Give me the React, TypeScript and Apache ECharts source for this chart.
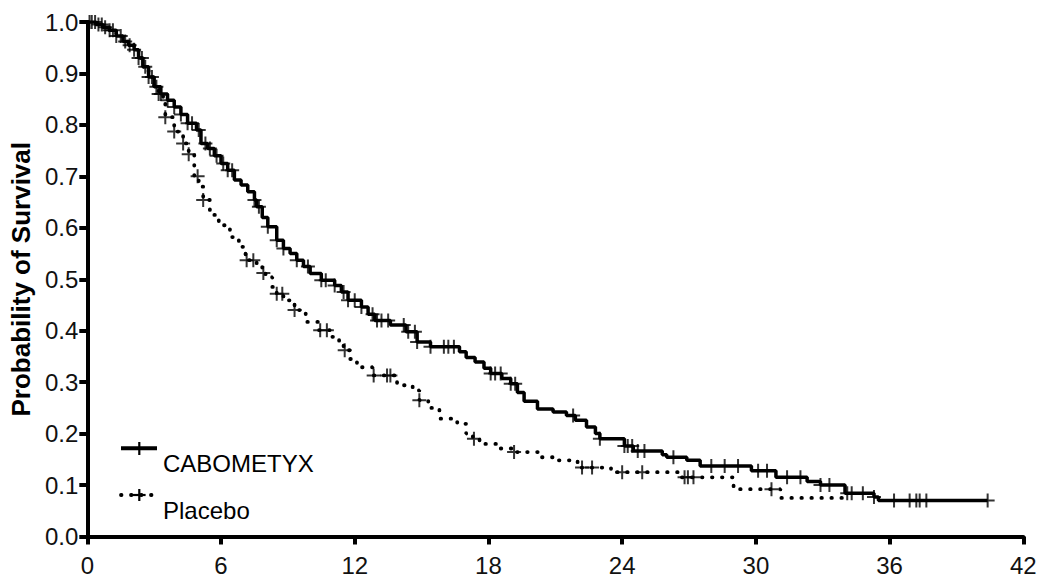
import React, { useEffect, useRef } from "react";
import * as echarts from "echarts";

// CABOMETYX Kaplan-Meier step points (months, survival probability)
const cabTimes = [0, 0.4, 0.7, 1.0, 1.3, 1.6, 1.85, 2.1, 2.3, 2.5, 2.75, 3.0, 3.3, 3.6, 3.9, 4.2, 4.5, 4.9, 5.1, 5.4, 5.7, 6.0, 6.3, 6.6, 6.9, 7.2, 7.5, 7.6, 7.85, 8.1, 8.5, 8.8, 9.1, 9.4, 9.7, 10.0, 10.5, 11.1, 11.4, 11.7, 12.3, 12.6, 12.9, 13.6, 14.3, 14.8, 15.4, 16.7, 17.0, 17.4, 17.8, 18.1, 18.6, 19.0, 19.3, 19.6, 20.2, 20.9, 21.5, 21.9, 22.4, 22.8, 23.0, 24.1, 24.5, 25.8, 26.0, 26.9, 27.5, 29.8, 30.9, 32.3, 32.9, 34.0, 35.3, 35.5, 40.4];
const cabSurv = [1.0, 0.995, 0.99, 0.984, 0.973, 0.962, 0.955, 0.946, 0.93, 0.913, 0.893, 0.874, 0.86, 0.848, 0.835, 0.82, 0.803, 0.79, 0.764, 0.754, 0.74, 0.725, 0.712, 0.693, 0.683, 0.67, 0.654, 0.641, 0.62, 0.602, 0.576, 0.56, 0.55, 0.537, 0.525, 0.511, 0.498, 0.488, 0.475, 0.459, 0.446, 0.432, 0.42, 0.411, 0.398, 0.378, 0.369, 0.359, 0.348, 0.339, 0.327, 0.317, 0.307, 0.297, 0.28, 0.263, 0.248, 0.242, 0.235, 0.226, 0.213, 0.2, 0.19, 0.176, 0.166, 0.159, 0.154, 0.148, 0.137, 0.128, 0.115, 0.107, 0.1, 0.084, 0.077, 0.07, 0.07];
const cabCensor = [0.1, 0.2, 0.35, 0.5, 0.65, 0.8, 1.0, 1.15, 1.3, 1.5, 1.7, 1.9, 2.1, 2.3, 2.45, 2.6, 2.75, 2.9, 3.1, 3.3, 3.6, 3.9, 4.2, 4.5, 4.7, 5.0, 5.3, 5.5, 5.8, 6.1, 6.3, 6.5, 7.5, 7.7, 8.1, 8.5, 8.8, 9.4, 9.9, 10.5, 10.7, 11.1, 11.5, 11.7, 12.0, 12.3, 12.8, 13.0, 13.2, 13.5, 14.2, 14.4, 14.7, 14.8, 15.4, 16.0, 16.2, 16.45, 18.1, 18.3, 18.55, 19.0, 19.2, 21.8, 23.0, 24.1, 24.25, 24.45, 24.7, 25.0, 26.3, 28.0, 28.6, 29.2, 30.1, 30.5, 31.4, 32.0, 32.9, 33.3, 34.1, 34.3, 34.8, 35.3, 36.2, 36.9, 37.2, 37.35, 37.65, 40.4];

// Placebo Kaplan-Meier step points
const plTimes = [0, 0.4, 0.7, 1.0, 1.3, 1.6, 1.85, 2.1, 2.3, 2.5, 2.75, 3.0, 3.2, 3.4, 3.5, 3.9, 4.3, 4.55, 4.8, 5.0, 5.2, 5.5, 5.9, 6.4, 6.8, 7.1, 7.6, 7.85, 8.0, 8.3, 8.5, 8.8, 9.3, 9.8, 10.4, 10.9, 11.3, 11.5, 11.8, 12.1, 12.8, 13.9, 14.6, 14.9, 15.3, 15.8, 16.6, 17.0, 17.3, 17.6, 18.4, 19.1, 20.3, 21.1, 22.0, 22.1, 23.5, 26.6, 29.0, 31.1, 34.0];
const plSurv = [1.0, 0.995, 0.99, 0.984, 0.973, 0.962, 0.955, 0.946, 0.93, 0.913, 0.893, 0.874, 0.86, 0.845, 0.815, 0.787, 0.764, 0.743, 0.7, 0.68, 0.654, 0.625, 0.605, 0.582, 0.563, 0.537, 0.524, 0.512, 0.504, 0.485, 0.472, 0.459, 0.44, 0.417, 0.401, 0.388, 0.375, 0.362, 0.345, 0.329, 0.313, 0.294, 0.284, 0.265, 0.25, 0.229, 0.219, 0.2, 0.19, 0.18, 0.171, 0.164, 0.154, 0.148, 0.141, 0.134, 0.125, 0.115, 0.092, 0.075, 0.075];
const plCensor = [3.2, 3.5, 3.9, 4.3, 4.55, 4.95, 5.2, 7.15, 7.45, 7.9, 8.5, 8.75, 9.3, 10.45, 10.75, 11.55, 12.85, 13.45, 13.6, 14.9, 17.35, 19.15, 22.2, 22.65, 24.0, 24.9, 26.8, 26.95, 27.2, 30.7];

const seriesNames = ["CABOMETYX", "Placebo"];
const xTicks = { min: 0, max: 42, step: 6 };
const yTicks = { min: 0, max: 1, step: 0.1 };
const yTitle = "Probability of Survival";

const FONT = "'Liberation Sans', Arial, sans-serif";
const CROSS = "path://M6,0H8V6H14V8H8V14H6V8H0V6H6Z";

function survAt(times: number[], surv: number[], t: number) {
  let s = surv[0];
  for (let i = 0; i < times.length; i++) if (times[i] <= t) s = surv[i];
  return s;
}

export default function App() {
  const ref = useRef<HTMLDivElement>(null);
  useEffect(() => {
    if (!ref.current) return;
    const chart = echarts.init(ref.current, undefined, { renderer: "svg" });
    const cabLine = cabTimes.map((t, i) => [t, cabSurv[i]]);
    const plLine = plTimes.map((t, i) => [t, plSurv[i]]);
    const cabMarks = cabCensor.map((t) => [t, survAt(cabTimes, cabSurv, t)]);
    const plMarks = plCensor.map((t) => [t, survAt(plTimes, plSurv, t)]);

    const legendX = 121;
    const legendX2 = 157;
    const crossX = 139.3;
    chart.setOption({
      animation: false,
      grid: { left: 87.3, right: 17.7, top: 22, bottom: 44.5 },
      xAxis: {
        type: "value",
        min: xTicks.min,
        max: xTicks.max,
        interval: xTicks.step,
        axisLine: { lineStyle: { color: "#000", width: 4 } },
        axisTick: { length: 8, lineStyle: { color: "#000", width: 4 } },
        splitLine: { show: false },
        axisLabel: { fontSize: 24, color: "#111", fontFamily: FONT, margin: 17 },
      },
      yAxis: {
        type: "value",
        min: yTicks.min,
        max: yTicks.max,
        interval: yTicks.step,
        name: yTitle,
        nameLocation: "middle",
        nameGap: 53,
        nameTextStyle: { fontSize: 26, fontWeight: "bold", fontFamily: FONT, color: "#000" },
        axisLine: { show: true, lineStyle: { color: "#000", width: 4 } },
        axisTick: { show: true, length: 8, lineStyle: { color: "#000", width: 4 } },
        splitLine: { show: false },
        axisLabel: {
          fontSize: 24,
          color: "#111",
          fontFamily: FONT,
          margin: 9,
          formatter: (v: number) => v.toFixed(1),
        },
      },
      series: [
        {
          name: seriesNames[1],
          type: "line",
          step: "end",
          data: plLine,
          showSymbol: false,
          silent: true,
          lineStyle: { color: "#000", width: 3.8, type: [0.5, 9.5], cap: "round" },
          z: 2,
        },
        {
          name: seriesNames[1] + " censored",
          type: "scatter",
          data: plMarks,
          symbol: CROSS,
          symbolSize: 14,
          itemStyle: { color: "#000" },
          silent: true,
          z: 3,
        },
        {
          name: seriesNames[0],
          type: "line",
          step: "end",
          data: cabLine,
          showSymbol: false,
          silent: true,
          lineStyle: { color: "#000", width: 3.5 },
          z: 4,
        },
        {
          name: seriesNames[0] + " censored",
          type: "scatter",
          data: cabMarks,
          symbol: CROSS,
          symbolSize: 14,
          itemStyle: { color: "#000" },
          silent: true,
          z: 5,
        },
      ],
      graphic: [
        { type: "line", shape: { x1: legendX, y1: 448.3, x2: legendX2, y2: 448.3 }, style: { stroke: "#000", lineWidth: 4 } },
        { type: "line", shape: { x1: crossX, y1: 442, x2: crossX, y2: 455 }, style: { stroke: "#000", lineWidth: 2.2 } },
        { type: "text", style: { text: seriesNames[0], x: 163, y: 463.4, font: "24px " + FONT, fill: "#000", textVerticalAlign: "middle" } },
        { type: "line", shape: { x1: legendX, y1: 495, x2: 154, y2: 495 }, style: { stroke: "#000", lineWidth: 3.8, lineDash: [0.5, 9.5], lineCap: "round" } },
        { type: "line", shape: { x1: crossX - 6.3, y1: 495, x2: crossX + 6.3, y2: 495 }, style: { stroke: "#000", lineWidth: 2.2 } },
        { type: "line", shape: { x1: crossX, y1: 489, x2: crossX, y2: 501 }, style: { stroke: "#000", lineWidth: 2.2 } },
        { type: "text", style: { text: seriesNames[1], x: 163, y: 510, font: "24px " + FONT, fill: "#000", textVerticalAlign: "middle" } },
      ],
    });
    return () => chart.dispose();
  }, []);
  return <div ref={ref} style={{ position: "absolute", left: 0, top: 0, width: 1041, height: 581 }} />;
}
